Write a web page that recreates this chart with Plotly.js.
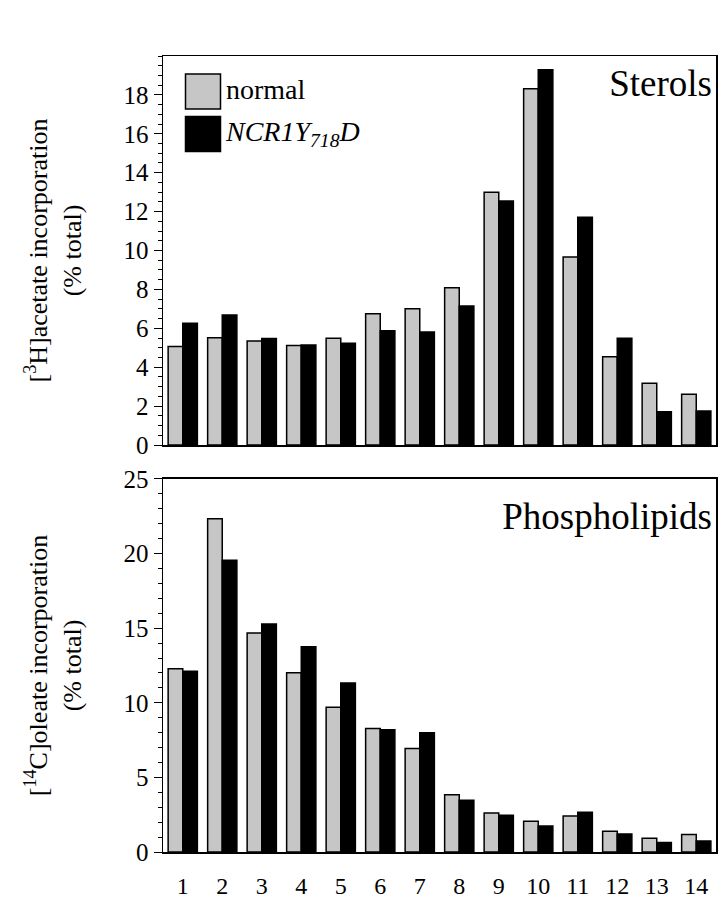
<!DOCTYPE html>
<html>
<head>
<meta charset="utf-8">
<script src="https://cdn.plot.ly/plotly-3.0.1.min.js"></script>
<style>html,body{margin:0;padding:0;background:#fff;}#chart{width:721px;height:900px;}</style>
</head>
<body>
<div id="chart"></div>
<script>
const fractions = ['1','2','3','4','5','6','7','8','9','10','11','12','13','14'];
const sterolsNormal = [5.06, 5.52, 5.35, 5.11, 5.49, 6.75, 7.0, 8.09, 13.0, 18.31, 9.67, 4.54, 3.17, 2.61];
const sterolsMutant = [6.26, 6.69, 5.47, 5.14, 5.23, 5.88, 5.81, 7.15, 12.55, 19.29, 11.71, 5.49, 1.71, 1.75];
const phosphoNormal = [12.29, 22.34, 14.68, 12.02, 9.70, 8.27, 6.93, 3.84, 2.61, 2.06, 2.41, 1.39, 0.92, 1.18];
const phosphoMutant = [12.11, 19.55, 15.28, 13.76, 11.33, 8.20, 8.00, 3.46, 2.46, 1.74, 2.66, 1.21, 0.63, 0.74];
const seriesNames = ['normal', 'NCR1Y<sub>718</sub>D'];
const panelNames = ['Sterols', 'Phospholipids'];
const sterolTicks = [0, 2, 4, 6, 8, 10, 12, 14, 16, 18];

const SERIF = '"Liberation Serif", "DejaVu Serif", serif';
const SANS = '"Liberation Sans", Arial, sans-serif';
const GREY = '#c6c6c6';
const TICK = 25, TITLE = 26;
const gd = document.getElementById('chart');

// bars
const data = [
  {type: 'bar', x: fractions, y: sterolsNormal, xaxis: 'x', yaxis: 'y', name: seriesNames[0],
   marker: {color: GREY, line: {color: '#000', width: 1.5}}},
  {type: 'bar', x: fractions, y: sterolsMutant, xaxis: 'x', yaxis: 'y', name: seriesNames[1],
   marker: {color: '#000', line: {color: '#000', width: 1.5}}},
  {type: 'bar', x: fractions, y: phosphoNormal, xaxis: 'x2', yaxis: 'y2', name: seriesNames[0],
   marker: {color: GREY, line: {color: '#000', width: 1.5}}},
  {type: 'bar', x: fractions, y: phosphoMutant, xaxis: 'x2', yaxis: 'y2', name: seriesNames[1],
   marker: {color: '#000', line: {color: '#000', width: 1.5}}}
];

// labels & legend drawn on a hidden full-page overlay subplot (x3/y3, units = page pixels)
function label(x, y, text, pos, size, family, weight) {
  return {type: 'scatter', mode: 'text', xaxis: 'x3', yaxis: 'y3', x: [x], y: [y], text: [text],
          textposition: pos, cliponaxis: false, hoverinfo: 'skip', showlegend: false,
          textfont: {family: family, size: size, color: '#000', weight: weight || 'normal'}};
}
data.push(
  {type: 'scatter', mode: 'markers', xaxis: 'x3', yaxis: 'y3', x: [203, 203], y: [91.5, 134],
   cliponaxis: false, hoverinfo: 'skip', showlegend: false,
   marker: {symbol: 'square', size: 35, color: [GREY, '#000'], line: {color: '#000', width: 1.5}}},
  label(20, 21, 'C', 'middle center', 48, SANS, 'bold'),
  label(712, 87, panelNames[0], 'middle left', 37, SERIF),
  label(712, 520, panelNames[1], 'middle left', 37, SERIF),
  label(226, 92, seriesNames[0], 'middle right', 28, SERIF),
  label(226, 134, '<i>' + seriesNames[1] + '</i>', 'middle right', 28, SERIF),
  label(-4, 884, 'Fraction #', 'middle right', 31, SERIF)
);

const layout = {
  width: 721, height: 900,
  margin: {l: 163, r: 5, t: 56, b: 48},
  font: {family: SERIF, size: 22, color: '#000'},
  paper_bgcolor: '#fff', plot_bgcolor: 'rgba(0,0,0,0)',
  barmode: 'group', bargap: 0.26,
  showlegend: false,
  xaxis: {type: 'category', anchor: 'y', showline: true, mirror: true, ticks: '', showticklabels: false,
          linecolor: '#000', linewidth: 1.5, showgrid: false},
  xaxis2: {type: 'category', anchor: 'y2', showline: true, mirror: true, ticks: '', showticklabels: true,
           linecolor: '#000', linewidth: 1.5, showgrid: false, ticklabelstandoff: 12,
           tickfont: {family: SERIF, size: 24, color: '#000'}},
  yaxis: {domain: [0.5113, 1], anchor: 'x', range: [0, 20], showline: true, mirror: true,
          linecolor: '#000', linewidth: 1.5, showgrid: false, zeroline: false,
          ticks: 'outside', ticklen: 8, tickcolor: '#000', tickvals: sterolTicks,
          minor: {dtick: 0.5, ticks: 'outside', ticklen: 4, tickcolor: '#000'},
          tickfont: {family: SERIF, size: TICK, color: '#000'},
          title: {text: '[<sup>3</sup>H]acetate incorporation<br>(% total)', standoff: 34,
                  font: {family: SERIF, size: TITLE, color: '#000'}}},
  yaxis2: {domain: [0, 0.4686], anchor: 'x2', range: [0, 25], dtick: 5, showline: true, mirror: true,
          linecolor: '#000', linewidth: 1.5, showgrid: false, zeroline: false,
          ticks: 'outside', ticklen: 8, tickcolor: '#000',
          minor: {dtick: 1, ticks: 'outside', ticklen: 4, tickcolor: '#000'},
          tickfont: {family: SERIF, size: TICK, color: '#000'},
          title: {text: '[<sup>14</sup>C]oleate incorporation<br>(% total)', standoff: 34,
                  font: {family: SERIF, size: TITLE, color: '#000'}}},
  xaxis3: {domain: [0, 1], anchor: 'y3', range: [163, 716], visible: false, fixedrange: true},
  yaxis3: {domain: [0, 1], anchor: 'x3', range: [852, 56], visible: false, fixedrange: true}
};

Plotly.newPlot(gd, data, layout, {staticPlot: true});
</script>
</body>
</html>
